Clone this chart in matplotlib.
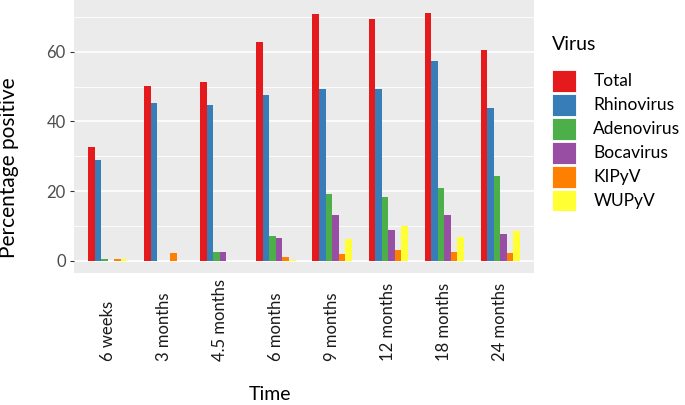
import numpy as np
import matplotlib
matplotlib.use("Agg")
import matplotlib.pyplot as plt
from matplotlib.patches import Patch

# Data
times = ["6 weeks", "3 months", "4.5 months", "6 months",
         "9 months", "12 months", "18 months", "24 months"]
viruses = ["Total", "Rhinovirus", "Adenovirus", "Bocavirus", "KIPyV", "WUPyV"]

total = [32.8, 50.1, 51.4, 62.7, 70.7, 69.4, 71.0, 60.5]
rhinovirus = [28.8, 45.4, 44.8, 47.5, 49.3, 49.3, 57.2, 43.9]
adenovirus = [0.7, 0.0, 2.7, 7.3, 19.3, 18.3, 21.0, 24.4]
bocavirus = [0.0, 0.0, 2.7, 6.7, 13.3, 8.8, 13.3, 7.6]
kipyv = [0.7, 2.4, 0.0, 1.2, 1.9, 3.2, 2.5, 2.2]
wupyv = [0.7, 0.0, 0.0, 0.4, 6.3, 9.9, 7.0, 8.5]

series = [total, rhinovirus, adenovirus, bocavirus, kipyv, wupyv]
colours = ["#E41A1C", "#377EB8", "#4DAF4A", "#984EA3", "#FF7F00", "#FFFF33"]

plt.rcParams["font.family"] = ["Lato", "DejaVu Sans"]

fig = plt.figure(figsize=(6.85, 4.05), dpi=100)
ax = fig.add_axes([74 / 685, 1 - 273.4 / 405, 460 / 685, 273.4 / 405])

ax.set_facecolor("#EBEBEB")
for s in ax.spines.values():
    s.set_visible(False)

# ggplot-like dodged bars
x = np.arange(1, len(times) + 1)
group_width = 0.7
bar_w = group_width / len(series)
for i, (vals, col) in enumerate(zip(series, colours)):
    offs = -group_width / 2 + bar_w * (i + 0.5)
    ax.bar(x + offs, vals, width=bar_w, color=col, linewidth=0, zorder=3)

ax.set_xlim(0.4, len(times) + 0.6)
ax.set_ylim(-3.56, 74.8)

ax.set_yticks([0, 20, 40, 60])
ax.set_yticks([10, 30, 50, 70], minor=True)
ax.grid(axis="y", which="major", color="white", linewidth=1.2, zorder=0)
ax.grid(axis="y", which="minor", color="white", linewidth=0.6, zorder=0)
ax.set_axisbelow(True)

ax.tick_params(axis="y", which="major", length=3, color="#333333",
               labelsize=12, labelcolor="#4D4D4D", pad=3)
ax.tick_params(axis="y", which="minor", length=0)

# rotated labels, aligned at their start like the reference
ax.set_xticks(x)
ax.set_xticklabels(times, rotation=90, va="bottom", ha="center")
ax.tick_params(axis="x", length=0, labelsize=12, labelcolor="#1A1A1A", pad=63)

fig.text(9 / 685, 1 - 168 / 405, "Percentage positive", rotation=90,
         ha="center", va="center", fontsize=15)
fig.text(270 / 685, 1 - 395 / 405, "Time", ha="center", va="center", fontsize=14)

handles = [Patch(facecolor=c, edgecolor="white", linewidth=0.6) for c in colours]
leg = fig.legend(handles, viruses, loc="upper left", bbox_to_anchor=(552 / 685, 1 - 36 / 405),
                 title="Virus", frameon=False, fontsize=12.5, title_fontsize=14,
                 handlelength=1.38, handleheight=1.57, labelspacing=0.115,
                 handletextpad=1.0, borderaxespad=0, borderpad=0)
leg._legend_box.align = "left"
leg._legend_box.sep = 12

fig.savefig("out.png", dpi=100)
